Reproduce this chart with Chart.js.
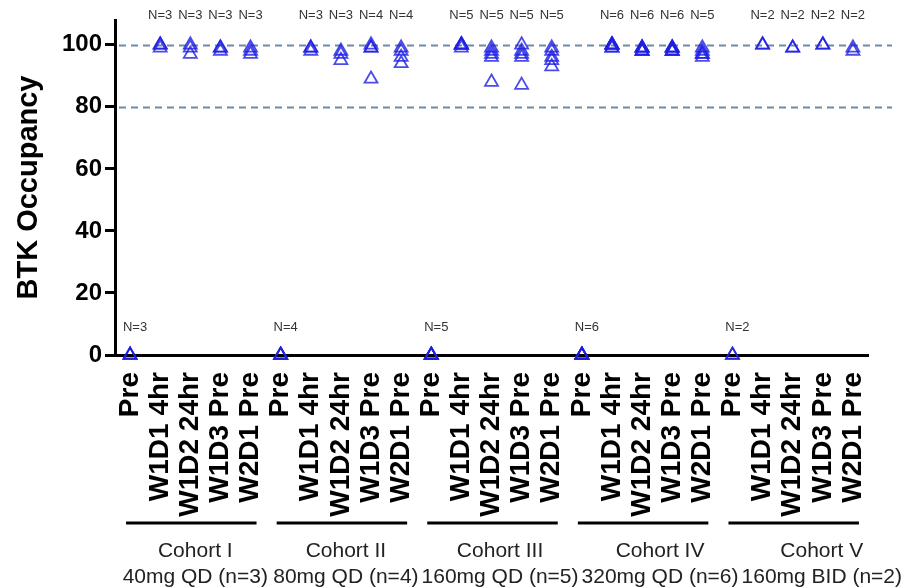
<!DOCTYPE html>
<html>
<head>
<meta charset="utf-8">
<script src="https://cdn.jsdelivr.net/npm/chart.js@4.4.0/dist/chart.umd.min.js"></script>
<style>
  html, body { margin: 0; padding: 0; background: #fff; }
  #wrap { width: 906px; height: 588px; }
</style>
</head>
<body>
<div id="wrap"><canvas id="myChart" width="906" height="588"></canvas></div>
<script>
// timepoints repeated for each cohort
const timepoints = ['Pre', 'W1D1 4hr', 'W1D2 24hr', 'W1D3 Pre', 'W2D1 Pre'];
const cohortNames = ['Cohort I', 'Cohort II', 'Cohort III', 'Cohort IV', 'Cohort V'];
const cohortDoses = ['40mg QD (n=3)', '80mg QD (n=4)', '160mg QD (n=5)', '320mg QD (n=6)', '160mg BID (n=2)'];

// BTK occupancy (%) per subject, one list per timepoint
const cohort1 = [[0, 0, 0], [100, 100, 99], [100, 99, 97], [99, 99, 98], [99, 98, 97]];
const cohort2 = [[0, 0, 0, 0], [99, 99, 98], [98, 97, 95], [100, 99, 99, 89], [99, 98, 96, 94]];
const cohort3 = [[0, 0, 0, 0, 0], [100, 100, 100, 99, 100], [99, 98, 97, 96, 88], [100, 98, 97, 96, 87], [99, 98, 96, 95, 93]];
const cohort4 = [[0, 0, 0, 0, 0, 0], [100, 100, 99, 99, 100, 100], [99, 99, 98, 98, 99, 98], [99, 98, 98, 99, 98, 99], [99, 98, 97, 96, 97]];
const cohort5 = [[0, 0], [100, 100], [99, 99], [100, 100], [99, 98]];

const yTicks = [0, 20, 40, 60, 80, 100];
const refLines = [100, 80];

const allCohorts = [cohort1, cohort2, cohort3, cohort4, cohort5];
const categories = [];
const values = [];
allCohorts.forEach(function(c) {
    c.forEach(function(v, j) {
        categories.push(timepoints[j]);
        values.push(v);
    });
});

const maxN = Math.max.apply(null, values.map(v => v.length));
const datasets = [];
for (let k = 0; k < maxN; k++) {
    datasets.push({
        data: values.map(v => (k < v.length ? v[k] : null)),
        showLine: false,
        pointStyle: 'triangle',
        pointRadius: 7.5,
        pointHoverRadius: 7.5,
        pointBorderWidth: 1.8,
        pointBorderColor: 'rgba(30,30,228,0.8)',
        pointBackgroundColor: 'rgba(0,0,0,0)',
        clip: false
    });
}

const FONT = "'Liberation Sans', Arial, sans-serif";

const refLinePlugin = {
    id: 'refLines',
    beforeDatasetsDraw(chart) {
        const ctx = chart.ctx, y = chart.scales.y, area = chart.chartArea;
        ctx.save();
        ctx.strokeStyle = '#6f8aa3';
        ctx.lineWidth = 2;
        ctx.setLineDash([7, 5]);
        refLines.forEach(function(v) {
            const py = Math.round(y.getPixelForValue(v)) + 0.5;
            ctx.beginPath();
            ctx.moveTo(area.left + 4, py);
            ctx.lineTo(chart.width - 14, py);
            ctx.stroke();
        });
        ctx.restore();
    }
};

const labelPlugin = {
    id: 'nLabels',
    afterDatasetsDraw(chart) {
        const ctx = chart.ctx, x = chart.scales.x, y = chart.scales.y;
        ctx.save();
        ctx.font = '13px ' + FONT;
        ctx.fillStyle = '#333';
        ctx.textAlign = 'center';
        ctx.textBaseline = 'middle';
        values.forEach(function(v, i) {
            const px = x.getPixelForValue(i);
            const top = Math.max.apply(null, v);
            const py = top === 0 ? y.getPixelForValue(0) - 28 : 15;
            ctx.fillText('N=' + v.length, top === 0 ? px + 5 : px, py);
        });
        ctx.restore();
    },
    afterDraw(chart) {
        const ctx = chart.ctx, x = chart.scales.x;
        ctx.save();
        // cohort underline bars
        ctx.strokeStyle = '#000';
        ctx.lineWidth = 3;
        cohortNames.forEach(function(name, c) {
            const x0 = x.getPixelForValue(c * 5) - 4;
            const x1 = x.getPixelForValue(c * 5 + 4) + 6;
            ctx.beginPath();
            ctx.moveTo(x0, 523);
            ctx.lineTo(x1, 523);
            ctx.stroke();
        });
        // cohort names and doses, kept from overlapping
        ctx.font = '21px ' + FONT;
        ctx.fillStyle = '#222';
        ctx.textAlign = 'center';
        ctx.textBaseline = 'middle';
        let prevRight = 0;
        cohortNames.forEach(function(name, c) {
            const w = ctx.measureText(cohortDoses[c]).width;
            let cx = x.getPixelForValue(c * 5 + 2) + 5;
            if (cx - w / 2 < prevRight + 3) cx = prevRight + 3 + w / 2;
            prevRight = cx + w / 2;
            ctx.fillText(name, cx, 551);
            ctx.fillText(cohortDoses[c], cx, 577);
        });
        ctx.restore();
    }
};

const ctx = document.getElementById('myChart');
new Chart(ctx, {
    type: 'line',
    data: { labels: categories, datasets: datasets },
    options: {
        responsive: false,
        animation: false,
        events: [],
        layout: { padding: { top: 20, right: 38, bottom: 0, left: 0 } },
        plugins: { legend: { display: false }, tooltip: { enabled: false } },
        scales: {
            x: {
                type: 'category',
                offset: true,
                grid: { display: false, drawTicks: false },
                border: { color: '#000', width: 3 },
                ticks: {
                    autoSkip: false,
                    minRotation: 90,
                    maxRotation: 90,
                    padding: 17,
                    color: '#000',
                    font: { family: FONT, size: 28, weight: 'bold' }
                },
                afterFit: function(scale) { scale.height = 233; }
            },
            y: {
                min: 0,
                max: 108,
                grid: { drawOnChartArea: false, drawTicks: true, tickLength: 10, color: '#000', lineWidth: 3 },
                border: { color: '#000', width: 3 },
                afterBuildTicks: function(scale) {
                    scale.ticks = yTicks.map(v => ({ value: v }));
                },
                ticks: {
                    padding: 3,
                    color: '#000',
                    font: { family: FONT, size: 24, weight: 'bold' }
                },
                title: {
                    display: true,
                    text: 'BTK Occupancy',
                    color: '#000',
                    padding: { top: 12, bottom: 0 },
                    font: { family: FONT, size: 29, weight: 'bold' }
                },
                afterFit: function(scale) { scale.width = 115; }
            }
        }
    },
    plugins: [refLinePlugin, labelPlugin]
});
</script>
</body>
</html>
